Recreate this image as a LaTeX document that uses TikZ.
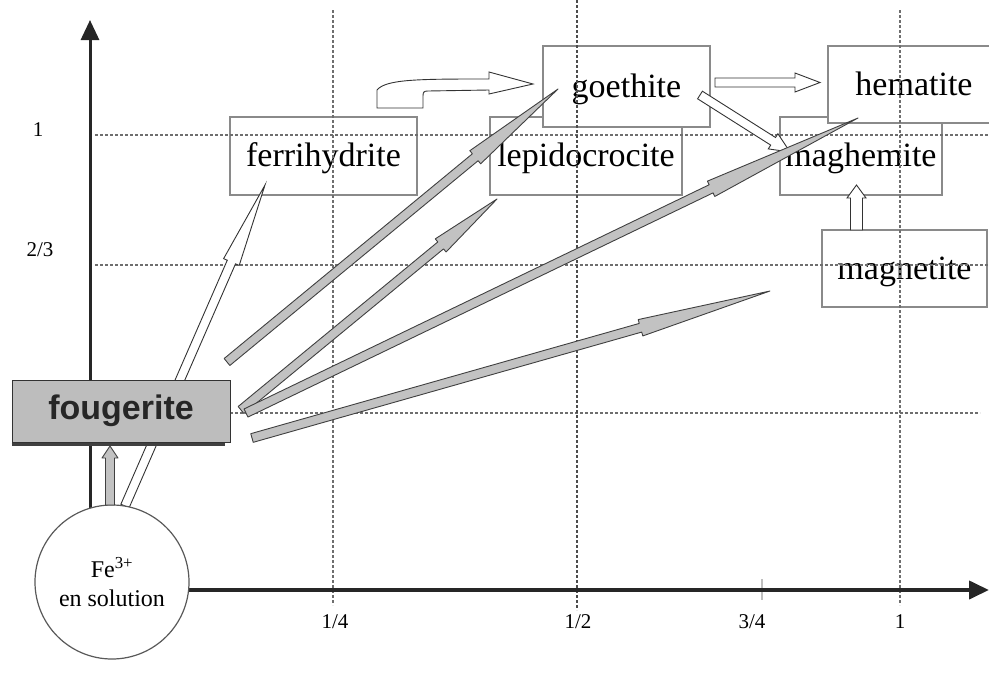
\documentclass[tikz,border=0pt]{standalone}
\usepackage{fontspec}
\setmainfont{Liberation Serif}
\newfontfamily\fougfont{Liberation Sans}
\usetikzlibrary{calc,arrows.meta}

\definecolor{boxgray}{HTML}{8A8A8A}
\definecolor{gridgray}{HTML}{6E6E6E}
\definecolor{speargray}{HTML}{C2C2C2}
\definecolor{fouggray}{HTML}{BDBDBD}

% Straight arrow with a barbed head: #1 style, #2 tail, #3 tip,
% #4 head base measured back from the tip, #5 shaft half width, #6 barb half width
\newcommand{\barbedarrow}[6]{%
  \coordinate (barb) at ($(#3)!#4!(#2)$);
  \draw[#1] ($(#2)!#5!90:(#3)$) -- ($(barb)!#5!90:(#3)$) -- ($(barb)!#6!90:(#3)$) -- (#3)
    -- ($(barb)!#6!-90:(#3)$) -- ($(barb)!#5!-90:(#3)$) -- ($(#2)!#5!-90:(#3)$) -- cycle;
}

\tikzset{
  mineral/.style={draw=boxgray, line width=1.6pt, inner sep=0pt,
    text height=26pt, text depth=5pt,
    font=\fontsize{34}{40}\selectfont},
  gridline/.style={draw=gridgray, line width=1.2pt, dash pattern=on 3pt off 2pt},
  spear/.style={draw=black!75, fill=speargray, line width=0.9pt, line join=round},
  hollow/.style={draw=black!80, fill=white, line width=0.9pt},
  axisline/.style={draw=black!85, -{Triangle[length=20pt,width=18pt]}},
  ticklabel/.style={font=\fontsize{21}{24}\selectfont, inner sep=0pt},
}

\begin{document}
\begin{tikzpicture}[x=1pt,y=-1pt]
\useasboundingbox (0,0) rectangle (989,675);
\clip (0,0) rectangle (989,675);

% mineral boxes
\node[mineral, minimum width=187pt, minimum height=78pt] (ferri) at (323.5,156) {ferrihydrite};
\node[mineral, minimum width=192pt, minimum height=78pt] (lepido) at (586,156) {lepidocrocite};
\node[mineral, minimum width=162pt, minimum height=78pt] (maghe) at (861,156) {maghemite};
\node[mineral, minimum width=165pt, minimum height=77pt] (magne) at (904.5,268.5) {magnetite};
\node[mineral, fill=white, minimum width=167pt, minimum height=81pt] (goeth) at (626.5,86.5) {goethite};
\node[mineral, fill=white, minimum width=172pt, minimum height=77pt] (hema) at (914,84.5) {hematite};

% dashed reference lines
\draw[gridline] (95,135) -- (989,135);
\draw[gridline] (95,265) -- (989,265);
\draw[gridline] (230,413) -- (980,413);
\draw[gridline] (333,10) -- (333,605);
\draw[gridline, draw=black!70] (577,0) -- (577,610);
\draw[gridline] (900,10) -- (900,605);
\draw[gray!50, line width=2pt] (762,579) -- (762,600);

% tick labels
\node[ticklabel] (y1) at (38,130) {1};
\node[ticklabel] (y23) at (40,250) {2/3};
\node[ticklabel] (x14) at (335,622) {1/4};
\node[ticklabel] (x12) at (578,622) {1/2};
\node[ticklabel] (x34) at (752,622) {3/4};
\node[ticklabel] (x1) at (900,622) {1};

% axes
\coordinate (origin) at (90,590);
\coordinate (ytop) at (90,20);
\coordinate (xend) at (989,590);
\draw[axisline, line width=3pt] (origin) -- (ytop);
\draw[axisline, line width=4pt] (origin) -- (xend);

% transformations between the oxides
\coordinate (gh1) at (715,82.5);  \coordinate (gh2) at (820,82.5);
\barbedarrow{hollow}{gh1}{gh2}{25pt}{4.5pt}{9.5pt}
\coordinate (gm1) at (700,95);    \coordinate (gm2) at (790,152);
\barbedarrow{hollow}{gm1}{gm2}{20pt}{4.5pt}{9pt}
\coordinate (mm1) at (856.5,230); \coordinate (mm2) at (856.5,185);
\barbedarrow{hollow}{mm1}{mm2}{13pt}{6pt}{9.5pt}

% bent arrow from ferrihydrite to goethite
\draw[hollow] (377,108) -- (377,90) .. controls (386,79) and (420,79) .. (489,79)
  -- (489,72) -- (533,84) -- (489,94) -- (489,90) -- (428,91)
  .. controls (424,91) and (423,92) .. (423,96) -- (423,108) -- cycle;

% solution to ferrihydrite
\coordinate (sf1) at (125,506); \coordinate (sf2) at (265,185);
\barbedarrow{hollow}{sf1}{sf2}{0.24}{4.5pt}{8.5pt}

% fougerite to the oxides
\coordinate (s1a) at (227,362); \coordinate (s1b) at (558,89);
\barbedarrow{spear}{s1a}{s1b}{0.25}{4.5pt}{8.5pt}
\coordinate (s2a) at (241,410); \coordinate (s2b) at (497,199);
\barbedarrow{spear}{s2a}{s2b}{0.22}{4.5pt}{8.5pt}
\coordinate (s3a) at (246,413); \coordinate (s3b) at (858,118);
\barbedarrow{spear}{s3a}{s3b}{0.24}{4.5pt}{8.5pt}
\coordinate (s4a) at (252,438); \coordinate (s4b) at (770,291);
\barbedarrow{spear}{s4a}{s4b}{0.25}{4.5pt}{8.5pt}

% fougerite box
\node[draw=black!80, fill=fouggray, line width=1pt, minimum width=218pt, minimum height=62pt,
  text=black!85, font=\fougfont\bfseries\fontsize{34}{40}\selectfont] (foug) at (121,411) {fougerite};
\draw[black!75, line width=3pt] ($(foug.south west)+(0,1.5)$) -- ($(foug.south east)+(-6,1.5)$);

% iron in solution
\node[circle, draw=black!65, line width=1.2pt, fill=white, minimum size=154pt, inner sep=0pt,
  align=center, font=\fontsize{24}{29}\selectfont] (sol) at (112,582) {Fe\textsuperscript{3+}\\en solution};

% solution to fougerite
\coordinate (sg1) at (110,505); \coordinate (sg2) at (110,446);
\barbedarrow{spear}{sg1}{sg2}{12pt}{4.5pt}{8pt}
\end{tikzpicture}
\end{document}
